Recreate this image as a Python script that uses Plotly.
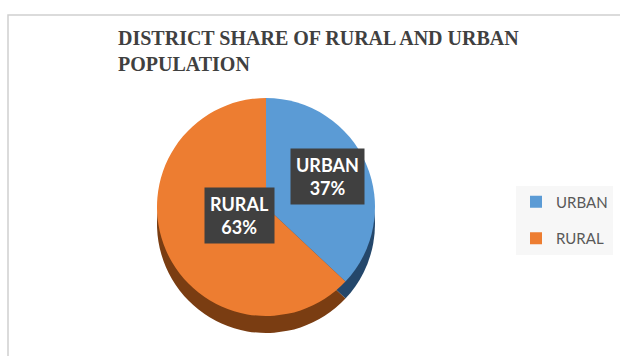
import plotly.graph_objects as go

# ---- data ----
categories = ["URBAN", "RURAL"]
shares = [37, 63]
colors_top = ["#5B9BD5", "#ED7D31"]
colors_side = ["#24476b", "#7a3d12"]
title_text = "DISTRICT SHARE OF RURAL AND URBAN<br>POPULATION"

W, H = 620, 356
ML, MT = 8, 15
PW, PH = W - ML, H - MT


def px(x):
    return (x - ML) / PW


def py(y):
    return (H - y) / PH


fig = go.Figure()

# side (depth) of the pie: darker pie shifted down
fig.add_trace(go.Pie(
    labels=categories, values=shares, sort=False, direction="clockwise", rotation=0,
    marker=dict(colors=colors_side, line=dict(width=0)),
    textinfo="none", hoverinfo="skip", showlegend=False,
    domain=dict(x=[px(157), px(375)], y=[py(333), py(115)]),
))
# top face
fig.add_trace(go.Pie(
    labels=categories, values=shares, sort=False, direction="clockwise", rotation=0,
    marker=dict(colors=colors_top, line=dict(width=0)),
    textinfo="none", showlegend=False,
    domain=dict(x=[px(157), px(375)], y=[py(316), py(98)]),
))

# legend entries
for i, (c, col) in enumerate(zip(categories, colors_top)):
    fig.add_trace(go.Scatter(
        x=[None], y=[None], mode="markers", name=c, legendgroup=c,
        marker=dict(symbol="square", size=10, color=col),
    ))

# data labels (dark boxes)
label_pos = {"URBAN": (327, 176), "RURAL": (204, 216)}
total = sum(shares)
for c, v in zip(categories, shares):
    x, y = label_pos[c]
    fig.add_annotation(
        x=px(x), y=py(y), xref="paper", yref="paper",
        text=f"<b>{c}<br>{round(100 * v / total)}%</b>", showarrow=False,
        font=dict(family="Lato", size=18, color="white"),
        bgcolor="#404040", borderpad=5, align="center",
    )

# title
fig.add_annotation(
    x=px(116), y=py(25), xref="paper", yref="paper", xanchor="left", yanchor="top",
    text=f"<b>{title_text}</b>", showarrow=False, align="left",
    font=dict(family="Liberation Serif", size=20, color="#404040"),
)

# outer chart border
fig.add_shape(type="rect", xref="paper", yref="paper",
              x0=0, y0=-0.1, x1=1.1, y1=1,
              line=dict(color="#d0d0d0", width=1.5), fillcolor="rgba(0,0,0,0)")

fig.update_layout(
    width=W, height=H,
    margin=dict(l=ML, r=0, t=MT, b=0),
    paper_bgcolor="white", plot_bgcolor="white",
    xaxis=dict(visible=False), yaxis=dict(visible=False),
    legend=dict(
        x=px(516), y=py(220), xanchor="left", yanchor="middle",
        bgcolor="#f7f7f7", traceorder="grouped", tracegroupgap=14,
        font=dict(family="Lato", size=15, color="#595959"),
        itemsizing="constant",
    ),
    showlegend=True,
)

fig.write_html("out.html")
